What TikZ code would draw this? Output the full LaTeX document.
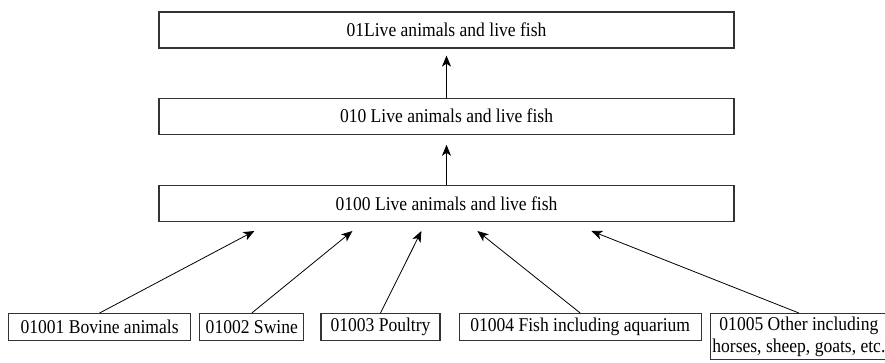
\documentclass[tikz,border=0pt]{standalone}
\usepackage{fontspec}
\setmainfont[FakeStretch=0.9]{Liberation Serif}
\usetikzlibrary{positioning,arrows.meta}
\tikzset{
level/.style={
draw=black!80,
line width=1.2pt,
minimum width=575pt,
minimum height=36pt,
inner sep=0pt,
font=\fontsize{19.5}{22}\selectfont
},
leaf/.style={
draw=black!80,
line width=1.2pt,
minimum height=27pt,
inner xsep=1pt,
inner ysep=3pt,
align=center,
font=\fontsize{19.5}{22}\selectfont
},
arrow/.style={
-{Stealth[length=11pt,width=9pt,inset=3pt]},
line width=0.8pt
}
}

\begin{document}
\begin{tikzpicture}[x=1pt,y=-1pt]
\clip (0,0) rectangle (885,362);
\node[level](l2) at (446.5,30){01Live animals and live fish};
\node[level,below=49pt of l2](l3){010 Live animals and live fish};
\node[level,below=50pt of l3](l4){0100 Live animals and live fish};

\node[leaf,minimum width=182pt,anchor=north west](bovine) at (8,313){01001 Bovine animals};
\node[leaf,minimum width=104pt,right=8pt of bovine](swine){01002 Swine};
\node[leaf,minimum width=119pt,right=16pt of swine](poultry){01003 Poultry};
\node[leaf,minimum width=242pt,right=18pt of poultry](fish){01004 Fish including aquarium};
\node[leaf,minimum width=177pt,right=8pt of fish.north east,anchor=north west](other){01005 Other including\\horses, sheep, goats, etc.};

\foreach \a/\b/\g in {l3/l2/7pt,l4/l3/10pt}
\draw[arrow,shorten >=\g](\a)--(\b);
\foreach \n/\d in {bovine/96,swine/194,poultry/263,fish/319,other/433}
\draw[arrow](\n.north)--([xshift=\d pt,yshift=-9pt]l4.south west);
\end{tikzpicture}
\end{document}
